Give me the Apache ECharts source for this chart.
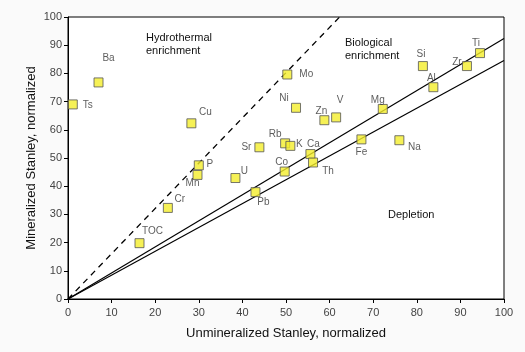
<!DOCTYPE html>
<html>
<head>
<meta charset="utf-8">
<script src="https://cdn.jsdelivr.net/npm/echarts@6/dist/echarts.min.js"></script>
<style>
  html, body { margin: 0; padding: 0; background: #fafafa; }
  #chart { width: 525px; height: 352px; }
</style>
</head>
<body>
<div id="chart"></div>
<script>
// elements and their normalized values
var elements = ["Ts", "Ba", "Mo", "Ni", "Zn", "V", "Cu", "Sr", "Rb", "K", "Ca", "Th", "Co", "P", "Mn", "U", "Pb", "Cr", "TOC", "Si", "Zr", "Ti", "Al", "Mg", "Fe", "Na"];
var unmineralized = [1.1, 7.0, 50.3, 52.3, 58.8, 61.5, 28.3, 43.9, 49.8, 51.0, 55.6, 56.2, 49.7, 30.0, 29.7, 38.4, 43.0, 22.9, 16.4, 81.4, 91.5, 94.5, 83.8, 72.2, 67.3, 76.0];
var mineralized = [69.0, 76.8, 79.6, 67.8, 63.4, 64.4, 62.3, 53.8, 55.2, 54.3, 51.4, 48.4, 45.2, 47.4, 44.0, 42.9, 37.9, 32.3, 19.8, 82.6, 82.6, 87.2, 75.1, 67.4, 56.6, 56.3];

// reference lines through the origin
var hydroLine = [[0, 0], [62.3, 100]];
var upperLine = [[0, 0], [100, 92.4]];
var lowerLine = [[0, 0], [100, 84.6]];

// label offsets (px) around each marker
var labelOffset = {
  Ts: [15, 1], Ba: [10, -24], Mo: [19, 0], Ni: [-12, -10], Zn: [-3, -9], V: [4, -17],
  Cu: [14, -11], Sr: [-13, 0], Rb: [-10, -9], K: [9, -2], Ca: [3, -10], Th: [15, 9],
  Co: [-3, -9], P: [11, -1], Mn: [-5, 8], U: [9, -7], Pb: [8, 10], Cr: [12, -9],
  TOC: [13, -12], Si: [-2, -12], Zr: [-10, -4], Ti: [-4, -10], Al: [-2, -9],
  Mg: [-5, -9], Fe: [0, 13], Na: [15, 7]
};

var points = elements.map(function (name, i) {
  return {
    name: name,
    value: [unmineralized[i], mineralized[i]],
    label: { offset: labelOffset[name] }
  };
});

var chart = echarts.init(document.getElementById("chart"));
var font = "Arial, 'Liberation Sans', sans-serif";

chart.setOption({
  backgroundColor: "#fafafa",
  animation: false,
  grid: {
    left: 68, right: 21, top: 17, bottom: 53,
    show: true, borderColor: "#000", borderWidth: 1, backgroundColor: "#fff"
  },
  xAxis: {
    type: "value", min: 0, max: 100, interval: 10,
    name: "Unmineralized Stanley, normalized",
    nameLocation: "middle", nameGap: 28, nameMoveOverlap: false,
    nameTextStyle: { color: "#111", fontSize: 13, fontFamily: font },
    axisLine: { lineStyle: { color: "#000" } },
    axisTick: { show: true, length: 4, lineStyle: { color: "#000" } },
    axisLabel: { color: "#444", fontSize: 11, fontFamily: font, margin: 8 },
    splitLine: { show: false }
  },
  yAxis: {
    type: "value", min: 0, max: 100, interval: 10,
    name: "Mineralized Stanley, normalized",
    nameLocation: "middle", nameGap: 30, nameMoveOverlap: false,
    nameTextStyle: { color: "#111", fontSize: 13, fontFamily: font },
    axisLine: { lineStyle: { color: "#000" } },
    axisTick: { show: true, length: 4, lineStyle: { color: "#000" } },
    axisLabel: { color: "#444", fontSize: 11, fontFamily: font, margin: 6 },
    splitLine: { show: false }
  },
  graphic: [
    { type: "text", left: 146, top: 31, style: { text: "Hydrothermal\nenrichment", fill: "#111", font: "11px " + font, lineHeight: 13 } },
    { type: "text", left: 345, top: 36, style: { text: "Biological\nenrichment", fill: "#111", font: "11px " + font, lineHeight: 13 } },
    { type: "text", left: 388, top: 209, style: { text: "Depletion", fill: "#111", font: "11px " + font } }
  ],
  series: [
    {
      type: "line", data: hydroLine, symbol: "none", silent: true,
      lineStyle: { color: "#000", width: 1.3, type: [6, 5] }
    },
    {
      type: "line", data: upperLine, symbol: "none", silent: true,
      lineStyle: { color: "#000", width: 1.2 }
    },
    {
      type: "line", data: lowerLine, symbol: "none", silent: true,
      lineStyle: { color: "#000", width: 1.2 }
    },
    {
      type: "scatter", data: points, symbol: "rect", symbolSize: 9,
      itemStyle: { color: "#f4ee2c", borderColor: "#555", borderWidth: 1 },
      label: {
        show: true, position: "inside", formatter: "{b}",
        color: "#333", fontSize: 10, fontFamily: font
      },
      z: 5
    }
  ]
});
</script>
</body>
</html>
